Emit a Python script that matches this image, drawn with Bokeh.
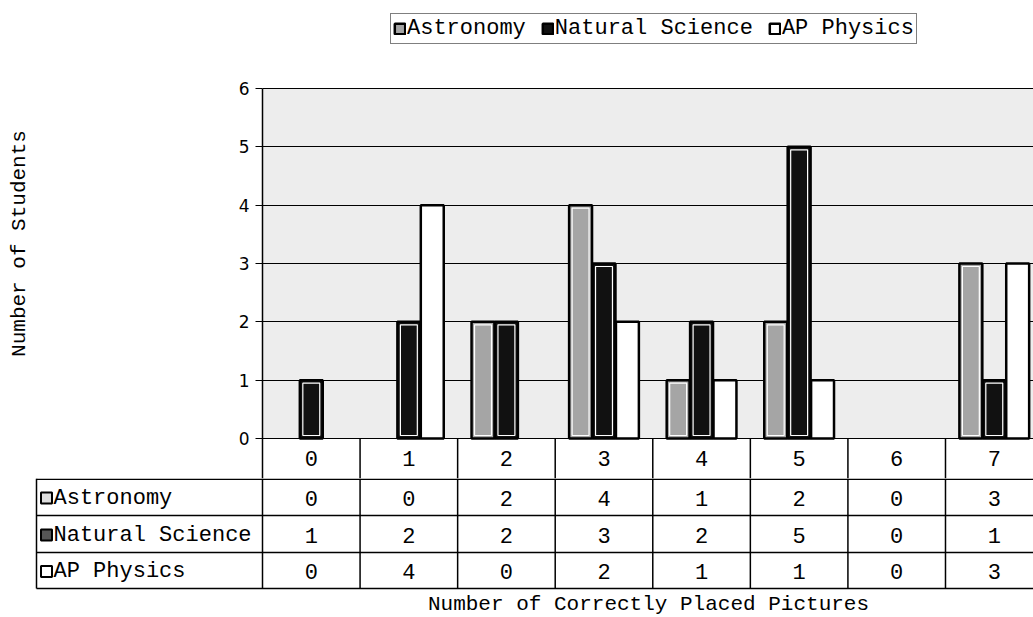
from bokeh.plotting import figure
from bokeh.models import (Range1d, FixedTicker, Legend, ColumnDataSource, CDSView,
                          BooleanFilter, BoxAnnotation)
from bokeh.transform import dodge
from bokeh.core.properties import value
from bokeh.embed import file_html
from bokeh.resources import INLINE

# ---------------- data ----------------
categories = [0, 1, 2, 3, 4, 5, 6, 7]
cat_labels = ["0", "1", "2", "3", "4", "5", "6", "7"]
series_names = ["Astronomy", "Natural Science", "AP Physics"]
astronomy = [0, 0, 2, 4, 1, 2, 0, 3]
natural_science = [1, 2, 2, 3, 2, 5, 0, 1]
ap_physics = [0, 4, 0, 2, 1, 1, 0, 3]
y_ticks = [0, 1, 2, 3, 4, 5, 6]
y_title = "Number of Students"
x_title = "Number of Correctly Placed Pictures"

# ---------------- styles / geometry ----------------
MONO = "Liberation Mono"
SANS = "DejaVu Sans"
W = 1033
PAGE_H = 617
PLOT_TOP = 88          # pixel row of value 6
PLOT_BOT = 438         # pixel row of value 0
A_H = 478              # chart canvas includes the category-label row of the table
B_H = PAGE_H - A_H
A_LEFT = 262
A_TOP = 8              # frame top (legend lives in the upper strip)
B_LEFT = 34
CAT_PX = 97.57
Y_MAX = 6
X_START = -0.5
X_END = X_START + (W - A_LEFT) / CAT_PX
XB_START = X_START - (A_LEFT - B_LEFT) / CAT_PX
PX_PER_Y = (PLOT_BOT - PLOT_TOP) / Y_MAX
Y_TOP = Y_MAX + (PLOT_TOP - A_TOP) / PX_PER_Y
Y_BOT = -(A_H - PLOT_BOT) / PX_PER_Y

fills = ["#a5a5a5", "#111111", "#ffffff"]
offsets = [-0.24, 0.0, 0.24]
BAR_W = 0.235
series = [astronomy, natural_science, ap_physics]
cols = ["astronomy", "natural_science", "ap_physics"]
TABLE_FONT = "22px"

# ---------------- chart ----------------
p = figure(width=W, height=A_H, x_range=Range1d(X_START, X_END), y_range=Range1d(Y_BOT, Y_TOP),
           output_backend="svg", toolbar_location=None, x_axis_location=None,
           min_border_left=A_LEFT, min_border_right=0, min_border_top=A_TOP, min_border_bottom=0,
           background_fill_color="white", outline_line_color=None, title=None)
p.add_layout(BoxAnnotation(bottom=0, top=Y_MAX, fill_color="#ededed", fill_alpha=1,
                           line_color=None, level="image"))
p.xgrid.visible = False
p.ygrid.ticker = FixedTicker(ticks=y_ticks)
p.ygrid.grid_line_color = "black"
p.ygrid.grid_line_width = 1
p.yaxis.ticker = FixedTicker(ticks=y_ticks)
p.yaxis.bounds = (Y_BOT, Y_MAX)
p.yaxis.axis_line_color = "black"
p.yaxis.axis_line_width = 1.5
p.yaxis.major_tick_out = 7
p.yaxis.major_tick_in = 0
p.yaxis.minor_tick_line_color = None
p.yaxis.major_tick_line_color = "black"
p.yaxis.major_label_text_font = SANS
p.yaxis.major_label_text_font_size = "17px"
p.yaxis.major_label_text_color = "black"
p.yaxis.major_label_standoff = 6
p.yaxis.axis_label = y_title
p.yaxis.axis_label_text_font = MONO
p.yaxis.axis_label_text_font_size = "21px"
p.yaxis.axis_label_text_font_style = "normal"
p.yaxis.axis_label_text_color = "black"
p.yaxis.axis_label_standoff = 205

src = ColumnDataSource(dict(x=categories, astronomy=astronomy,
                            natural_science=natural_science, ap_physics=ap_physics))
renderers = []
for col, vals, off, fc in zip(cols, series, offsets, fills):
    view = CDSView(filter=BooleanFilter([v > 0 for v in vals]))
    r = p.vbar(x=dodge("x", off, range=p.x_range), top=col, width=BAR_W, bottom=0,
               source=src, view=view, fill_color=fc, line_color="black", line_width=2.5)
    renderers.append(r)

# inner white strokes for the filled bars
inset_x = 6 / CAT_PX
inset_y = 3 / PX_PER_Y
for vals, off in zip(series[:2], offsets[:2]):
    xs = [c + off for c, v in zip(categories, vals) if v > 0]
    tops = [v - inset_y for v in vals if v > 0]
    p.vbar(x=xs, top=tops, bottom=inset_y, width=BAR_W - inset_x,
           fill_color=None, line_color="white", line_width=1.2)

legend = Legend(items=[(n, [r]) for n, r in zip(series_names, renderers)],
                orientation="horizontal", location=(128, 434))
legend.label_text_font = MONO
legend.label_text_font_size = "22px"
legend.label_text_color = "black"
legend.glyph_width = 13
legend.glyph_height = 13
legend.label_standoff = 1
legend.spacing = 15
legend.padding = 2
legend.margin = 0
legend.border_line_color = "black"
legend.border_line_width = 1.5
legend.background_fill_color = "white"
legend.background_fill_alpha = 1
p.add_layout(legend)

# category-label row of the data table (directly under the x = 0 line)
cx = [X_START + i for i in range(1, len(categories))]
p.segment(x0=cx, y0=[Y_BOT] * len(cx), x1=cx, y1=[0] * len(cx),
          line_color="black", line_width=1.5)
p.text(x=categories, y=[Y_BOT / 2] * len(categories), text=cat_labels, text_align="center",
       text_baseline="middle", text_font=value(MONO), text_font_size=TABLE_FONT,
       text_color="black")

# ---------------- data table rows ----------------
t = figure(width=W, height=B_H, x_range=Range1d(XB_START, X_END), y_range=Range1d(B_H, 0),
           output_backend="svg", toolbar_location=None, x_axis_location=None, y_axis_location=None,
           min_border_left=B_LEFT, min_border_right=0, min_border_top=0, min_border_bottom=0,
           background_fill_color="white", outline_line_color=None, title=None)
t.grid.visible = False

def px2x(px):
    return XB_START + (px - B_LEFT) / CAT_PX

row_lines = [0, 37, 74, 110]
table_left = px2x(36)
hy = [0.8] + row_lines[1:]
t.segment(x0=[table_left] * len(hy), y0=hy, x1=[X_END] * len(hy), y1=hy,
          line_color="black", line_width=1.5)
vx = [X_START + i for i in range(len(categories))] + [table_left]
t.segment(x0=vx, y0=[0] * len(vx), x1=vx, y1=[row_lines[-1]] * len(vx),
          line_color="black", line_width=1.5)

txt = dict(text_font=value(MONO), text_font_size=TABLE_FONT, text_color="black",
           text_baseline="middle")
centers = [(row_lines[i] + row_lines[i + 1]) / 2 + 1 for i in range(3)]
for vals, cy in zip(series, centers):
    t.text(x=categories, y=[cy] * len(categories), text=[str(v) for v in vals],
           text_align="center", **txt)
t.text(x=[px2x(53)] * 3, y=centers, text=series_names, text_align="left", **txt)
t.rect(x=[px2x(46)] * 3, y=centers, width=11, height=11, width_units="screen",
       height_units="screen", fill_color=["#dddddd", "#555555", "#ffffff"],
       line_color="black", line_width=2)

t.text(x=[px2x(648)], y=[604 - A_H], text=[x_title], text_align="center",
       text_font=value(MONO), text_font_size="21px", text_color="black",
       text_baseline="middle")

open("out.html", "w").write(file_html([p, t], INLINE))
